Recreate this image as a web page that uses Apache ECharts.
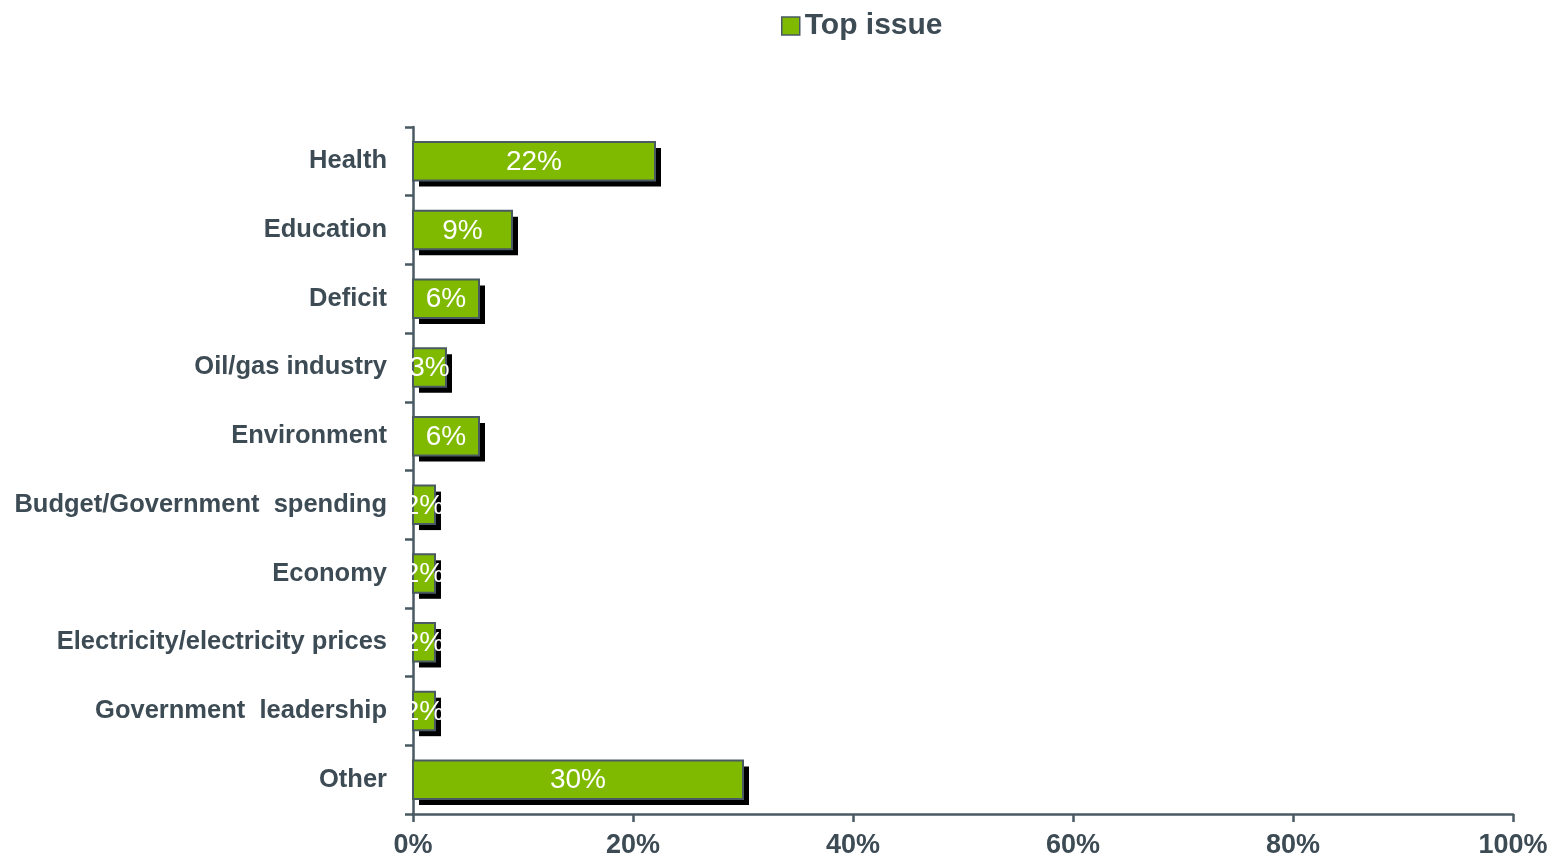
<!DOCTYPE html>
<html><head><meta charset="utf-8">
<script src="https://cdn.jsdelivr.net/npm/echarts@6/dist/echarts.min.js"></script>
<style>html,body{margin:0;padding:0;background:#fff}#c{width:1564px;height:863px}</style>
</head><body><div id="c"></div>
<script>
const categories = ["Health","Education","Deficit","Oil/gas industry","Environment","Budget/Government  spending","Economy","Electricity/electricity prices","Government  leadership","Other"];
const values = [22, 9, 6, 3, 6, 2, 2, 2, 2, 30];
const xTicks = [0, 20, 40, 60, 80, 100];
const seriesName = "Top issue";

const textColor = '#3d4b55';
const edge = '#4a5a63';
const green = '#7fba00';
const chart = echarts.init(document.getElementById('c'));
chart.setOption({
  animation: false,
  legend: {
    top: 6, left: 776, itemWidth: 18, itemHeight: 18, itemGap: 6,
    icon: 'rect',
    textStyle: { fontFamily: 'Liberation Sans', fontSize: 30, fontWeight: 'bold', color: textColor },
    data: [{ name: seriesName, itemStyle: { color: green, borderColor: edge, borderWidth: 1.5 } }]
  },
  grid: { left: 413, right: 51, top: 127, bottom: 49, containLabel: false },
  xAxis: {
    type: 'value', min: 0, max: 100, interval: 20,
    axisLine: { show: true, lineStyle: { color: edge, width: 2.5 } },
    axisTick: { show: true, length: 8, lineStyle: { color: edge, width: 2.5 } },
    splitLine: { show: false },
    axisLabel: { formatter: v => xTicks.includes(v) ? v + '%' : '', fontFamily: 'Liberation Sans', fontWeight: 'bold', fontSize: 27, color: textColor, margin: 18 }
  },
  yAxis: {
    type: 'category', inverse: true, data: categories,
    axisLine: { show: true, lineStyle: { color: edge, width: 2.5 } },
    axisTick: { show: true, length: 8, lineStyle: { color: edge, width: 2.5 } },
    axisLabel: { fontFamily: 'Liberation Sans', fontWeight: 'bold', fontSize: 25.5, color: textColor, margin: 26 }
  },
  series: [{
    name: seriesName, type: 'custom',
    itemStyle: { color: green },
    encode: { x: 0, y: 1 },
    data: values.map((v, i) => [v, i]),
    renderItem: function (params, api) {
      const v = api.value(0), idx = api.value(1);
      const s = api.coord([0, idx]);
      const e = api.coord([v, idx]);
      const h = api.size([0, 1])[1] * 0.56;
      const w = e[0] - s[0];
      const y = s[1] - h / 2;
      return {
        type: 'group',
        children: [
          { type: 'rect', shape: { x: s[0] + 6, y: y + 6, width: w, height: h }, style: { fill: '#000' } },
          { type: 'rect', shape: { x: s[0], y: y, width: w, height: h }, style: { fill: green, stroke: edge, lineWidth: 2 } },
          { type: 'text', style: { text: v + '%', x: s[0] + w / 2, y: s[1] + 1, align: 'center', verticalAlign: 'middle', fill: '#fff', font: '28px "Liberation Sans"' } }
        ]
      };
    }
  }]
});
</script></body></html>
